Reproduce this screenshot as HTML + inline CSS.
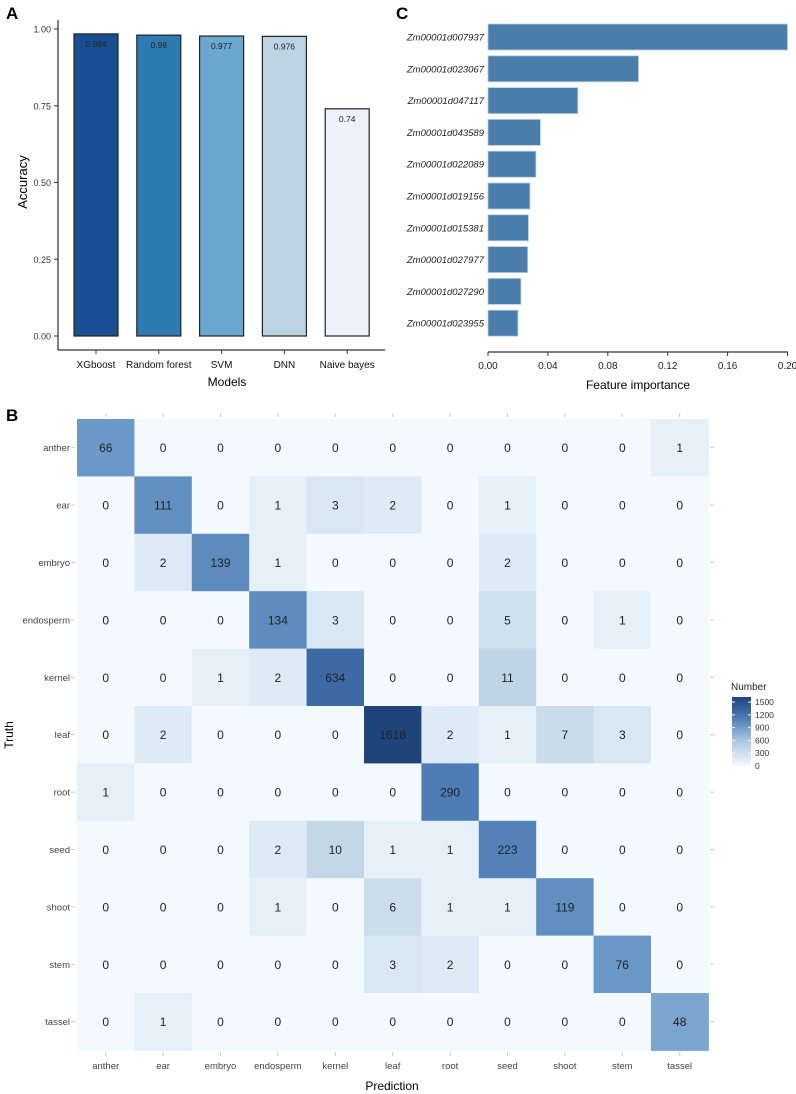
<!DOCTYPE html>
<html><head><meta charset="utf-8"><style>
body{margin:0;background:#fff;}
svg{display:block;font-family:"Liberation Sans",Arial,sans-serif;}
</style></head><body>
<svg id="s" width="796" height="1094" xmlns="http://www.w3.org/2000/svg">
<defs><linearGradient id="lgrad" x1="0" y1="1" x2="0" y2="0">
<stop offset="0" stop-color="#f4f9fe"/><stop offset="0.37" stop-color="#a9c6e0"/><stop offset="0.7" stop-color="#4a7cb5"/><stop offset="1" stop-color="#1f437b"/></linearGradient></defs>
<text x="6" y="19" font-size="17" font-weight="bold">A</text>
<text x="396" y="19" font-size="17" font-weight="bold">C</text>
<text x="6" y="421" font-size="17" font-weight="bold">B</text>
<g id="pa"></g>
<g id="pc"></g>
<g id="pb"></g>
</svg>
<script>
const NS="http://www.w3.org/2000/svg";
function mk(p,t,a,txt){const e=document.createElementNS(NS,t);for(const k in a)e.setAttribute(k,a[k]);if(txt!==undefined)e.textContent=txt;p.appendChild(e);return e;}

// ---- Panel A data
const models=["XGboost","Random forest","SVM","DNN","Naive bayes"];
const accuracy=[0.984,0.98,0.977,0.976,0.74];
const accTicks=[0,0.25,0.5,0.75,1.0];
const accTickLabels=["0.00","0.25","0.50","0.75","1.00"];
const modelColors=["#1a4e92","#2e7bb4","#6aa8cf","#bcd4e4","#eef1fa"];

// ---- Panel C data
const genes=["Zm00001d007937","Zm00001d023067","Zm00001d047117","Zm00001d043589","Zm00001d022089","Zm00001d019156","Zm00001d015381","Zm00001d027977","Zm00001d027290","Zm00001d023955"];
const importance=[0.200,0.1005,0.060,0.035,0.032,0.028,0.027,0.0265,0.022,0.020];
const impTicks=[0,0.04,0.08,0.12,0.16,0.20];
const impTickLabels=["0.00","0.04","0.08","0.12","0.16","0.20"];

// ---- Panel B data
const classes=["anther","ear","embryo","endosperm","kernel","leaf","root","seed","shoot","stem","tassel"];
const confusion=[
[66,0,0,0,0,0,0,0,0,0,1],
[0,111,0,1,3,2,0,1,0,0,0],
[0,2,139,1,0,0,0,2,0,0,0],
[0,0,0,134,3,0,0,5,0,1,0],
[0,0,1,2,634,0,0,11,0,0,0],
[0,2,0,0,0,1618,2,1,7,3,0],
[1,0,0,0,0,0,290,0,0,0,0],
[0,0,0,2,10,1,1,223,0,0,0],
[0,0,0,1,0,6,1,1,119,0,0],
[0,0,0,0,0,3,2,0,0,76,0],
[0,1,0,0,0,0,0,0,0,0,48]];
const legendTicks=[0,300,600,900,1200,1500];

// Panel A
const pa=document.getElementById('pa');
const ay=v=>336-v*(336-29);
const bx=i=>74+i*62.8;
const bw=44;
mk(pa,'line',{x1:58,y1:20,x2:58,y2:350,stroke:'#000','stroke-width':1});
mk(pa,'line',{x1:58,y1:350,x2:385,y2:350,stroke:'#000','stroke-width':1});
accTicks.forEach((t,i)=>{const y=ay(t);
 mk(pa,'line',{x1:54,y1:y,x2:58,y2:y,stroke:'#333'});
 const l=mk(pa,'text',{x:51,y:y+3.5,'font-size':9,'text-anchor':'end',fill:'#333'},accTickLabels[i]);
 });
models.forEach((m,i)=>{const x=bx(i),y=ay(accuracy[i]);
 const r=mk(pa,'rect',{x:x,y:y,width:bw,height:ay(0)-y,fill:modelColors[i],stroke:'#222','stroke-width':1.2});
 
 mk(pa,'text',{x:x+bw/2,y:y+13,'font-size':8.5,'text-anchor':'middle',fill:'#222'},String(accuracy[i]));
 mk(pa,'line',{x1:x+bw/2,y1:350,x2:x+bw/2,y2:354,stroke:'#333'});
 const t=mk(pa,'text',{x:x+bw/2,y:368,'font-size':10,'text-anchor':'middle',fill:'#111'},m);
 });
const yt=mk(pa,'text',{x:0,y:0,'font-size':13,'text-anchor':'middle',transform:'translate(27,182) rotate(-90)'},'Accuracy');

const xt=mk(pa,'text',{x:227,y:386,'font-size':12,'text-anchor':'middle'},'Models');


// Panel C
const pc=document.getElementById('pc');
const cx=v=>488+v/0.2*(787.5-488);
const cy=i=>37+i*31.8;
mk(pc,'line',{x1:488,y1:352,x2:788,y2:352,stroke:'#000'});
impTicks.forEach((t,i)=>{const x=cx(t);mk(pc,'line',{x1:x,y1:352,x2:x,y2:356,stroke:'#333'});
 const l=mk(pc,'text',{x:x,y:369,'font-size':10,'text-anchor':'middle',fill:'#222'},impTickLabels[i]);
 });
genes.forEach((g,i)=>{const y=cy(i);
 const r=mk(pc,'rect',{x:488,y:y-13,width:cx(importance[i])-488,height:26,fill:'#4a7daa',stroke:'#b8cfe2','stroke-width':0.8});
 
 const t=mk(pc,'text',{x:484,y:y+3.5,'font-size':9.5,'font-style':'italic','text-anchor':'end',fill:'#222'},g);
 });
const ct=mk(pc,'text',{x:638,y:389,'font-size':12,'text-anchor':'middle'},'Feature importance');


// Panel B
const pb=document.getElementById('pb');
const stops=[[0,[244,249,254]],[0.15,[222,235,246]],[0.33,[193,215,232]],[0.57,[108,154,200]],[0.85,[66,112,173]],[1,[31,67,123]]];
function col(v){const t=Math.log1p(v)/Math.log1p(1618);
 for(let i=1;i<stops.length;i++){if(t<=stops[i][0]){const a=stops[i-1],b=stops[i],f=(t-a[0])/(b[0]-a[0]);
  return 'rgb('+a[1].map((c,k)=>Math.round(c+(b[1][k]-c)*f)).join(',')+')';}}return 'rgb(31,67,123)';}
const L=77,T=419,cw=57.4,ch=57.4;
const hx=j=>L+j*cw, hy=i=>T+i*ch;
classes.forEach((c,i)=>{
 const yl=mk(pb,'text',{x:70,y:hy(i)+ch/2+3.5,'font-size':9.5,'text-anchor':'end',fill:'#444'},c);
 
 mk(pb,'line',{x1:71,y1:hy(i)+ch/2,x2:75,y2:hy(i)+ch/2,stroke:'#ccc'});
 const xl=mk(pb,'text',{x:hx(i)+cw/2,y:1069,'font-size':9.5,'text-anchor':'middle',fill:'#444'},c);
 
 mk(pb,'line',{x1:hx(i)+cw/2,y1:1052,x2:hx(i)+cw/2,y2:1056,stroke:'#ccc'});
 mk(pb,'line',{x1:hx(i)+cw/2,y1:413,x2:hx(i)+cw/2,y2:417,stroke:'#ccc'});
 mk(pb,'line',{x1:710,y1:hy(i)+ch/2,x2:714,y2:hy(i)+ch/2,stroke:'#ccc'});
 classes.forEach((p,j)=>{const v=confusion[i][j];
  const r=mk(pb,'rect',{x:hx(j),y:hy(i),width:cw+0.5,height:ch+0.5,fill:col(v)});
  
  mk(pb,'text',{x:hx(j)+cw/2,y:hy(i)+ch/2+4.5,'font-size':12,'text-anchor':'middle',fill:'#222'},String(v));});
});
const pt=mk(pb,'text',{x:392,y:1090,'font-size':12,'text-anchor':'middle'},'Prediction');

const tt=mk(pb,'text',{x:0,y:0,'font-size':12,'text-anchor':'middle',transform:'translate(13,735) rotate(-90)'},'Truth');

// legend
const lg=mk(pb,'g',{});

mk(lg,'text',{x:731,y:690,'font-size':10,fill:'#222'},'Number');
const lTop=697,lBot=766,lMax=1618;
const ly=v=>lBot-v/lMax*(lBot-lTop);
mk(lg,'rect',{x:732,y:lTop,width:19,height:lBot-lTop,fill:'url(#lgrad)'});
legendTicks.forEach(t=>{const y=ly(t);
 mk(lg,'line',{x1:732,y1:y,x2:735,y2:y,stroke:'#fff'});mk(lg,'line',{x1:748,y1:y,x2:751,y2:y,stroke:'#fff'});
 mk(lg,'text',{x:755,y:y+3,'font-size':8.5,fill:'#333'},String(t));});
</script>
</body></html>
